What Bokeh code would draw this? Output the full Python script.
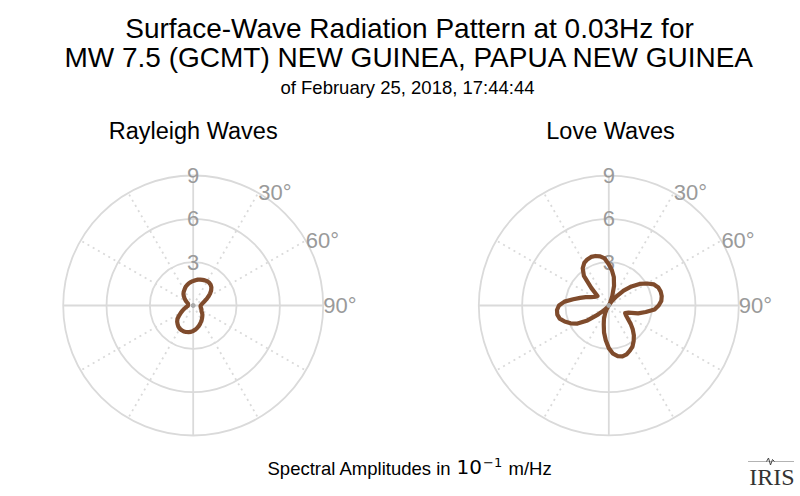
import numpy as np
from bokeh.plotting import figure
from bokeh.layouts import column, row
from bokeh.models import Range1d
from bokeh.core.properties import value
from bokeh.embed import file_html
from bokeh.resources import INLINE

# ---------------- data ----------------
AZIMUTH_DEG = list(range(0, 360, 5))

RAYLEIGH = [1.70, 1.76, 1.82, 1.86, 1.89, 1.92, 1.94, 1.93, 1.88, 1.78,
            1.62, 1.42, 1.20, 1.00, 0.82, 0.70, 0.62, 0.56, 0.52, 0.51,
            0.52, 0.55, 0.59, 0.63, 0.66, 0.70, 0.80, 0.90, 0.98, 1.07,
            1.17, 1.26, 1.37, 1.48, 1.58, 1.68, 1.76, 1.83, 1.87, 1.90,
            1.91, 1.89, 1.86, 1.79, 1.68, 1.57, 1.42, 1.18, 0.98, 0.80,
            0.66, 0.54, 0.45, 0.38, 0.36, 0.36, 0.36, 0.37, 0.39, 0.45,
            0.55, 0.66, 0.78, 0.92, 1.05, 1.15, 1.23, 1.33, 1.43, 1.50,
            1.58, 1.64]

LOVE = [2.85, 2.45, 2.00, 1.40, 0.70, 0.25, 0.08, 0.35, 0.80, 1.45,
        2.05, 2.60, 3.05, 3.45, 3.65, 3.72, 3.72, 3.65, 3.45, 3.18,
        2.60, 2.10, 1.45, 1.25, 1.38, 1.62, 1.98, 2.35, 2.70, 3.00,
        3.28, 3.45, 3.60, 3.65, 3.56, 3.35, 2.95, 2.42, 1.90, 1.35,
        0.98, 0.60, 0.30, 0.10, 0.22, 0.45, 0.95, 1.80, 2.50, 2.92,
        3.25, 3.52, 3.62, 3.60, 3.45, 3.08, 2.50, 2.05, 1.70, 1.38,
        1.20, 1.08, 1.02, 1.70, 2.68, 3.15, 3.40, 3.52, 3.58, 3.55,
        3.45, 3.27]

RADIAL_TICKS = [3, 6, 9]
RADIAL_LABELS = ["3", "6", "9"]
SPOKE_DEG = list(range(0, 360, 30))
ANGLE_TICKS = [30, 60, 90]
ANGLE_LABELS = ["30°", "60°", "90°"]

TITLE_1 = "Surface-Wave Radiation Pattern at 0.03Hz for"
TITLE_2 = "MW 7.5 (GCMT) NEW GUINEA, PAPUA NEW GUINEA"
TITLE_3 = "of February 25, 2018, 17:44:44"
SUBTITLES = ["Rayleigh Waves", "Love Waves"]
FOOTER_PARTS = ["Spectral Amplitudes in", "10", "\u22121", "m/Hz"]
LOGO = "IRIS"

# ---------------- style ----------------
FONT = value("Liberation Sans")
GRID = "#dadada"
LABEL = "#9a9a9a"
CURVE = "#7f4b2c"

W = 800
HEAD_H = 158
ROW_H = 290
FOOT_H = 48
PX_PER_UNIT = 130.0 / 9.0
CENTER_TOP = 147          # pixel distance from top of the polar row to the centre
LEFT_CX = 192.7
RIGHT_CX = 608.3 - W / 2
TITLE_X = 409


def bare(p):
    p.axis.visible = False
    p.xgrid.visible = False
    p.ygrid.visible = False
    p.outline_line_color = None
    p.min_border = 0
    p.background_fill_color = "white"
    p.border_fill_color = "white"
    return p


def label(p, x, y, txt, size, font=FONT, color="black", align="center"):
    p.text(x=x, y=y, text=txt, text_font=font, text_font_size=size, text_color=color,
           text_align=align, text_baseline="middle")


# header (y measured upward from the bottom of the header)
head = bare(figure(width=W, height=HEAD_H, x_range=Range1d(0, W), y_range=Range1d(0, HEAD_H),
                   output_backend="svg", toolbar_location=None))
label(head, [TITLE_X], [130.5], [TITLE_1], "28px")
label(head, [TITLE_X], [101], [TITLE_2], "28px")
label(head, [TITLE_X - 2], [71.5], [TITLE_3], "18.5px")
label(head, [LEFT_CX, 610], [27.5, 27.5], SUBTITLES, "23.5px")


def polar(values, cx):
    xs = (-cx / PX_PER_UNIT, (W / 2 - cx) / PX_PER_UNIT)
    ys = (-(ROW_H - CENTER_TOP) / PX_PER_UNIT, CENTER_TOP / PX_PER_UNIT)
    p = bare(figure(width=W // 2, height=ROW_H, x_range=Range1d(*xs), y_range=Range1d(*ys),
                    output_backend="svg", toolbar_location=None))
    rmax = max(RADIAL_TICKS)
    # circles
    p.circle(x=[0] * len(RADIAL_TICKS), y=[0] * len(RADIAL_TICKS), radius=RADIAL_TICKS,
             fill_color=None, line_color=GRID, line_width=1.8)
    # spokes
    sp = np.radians(SPOKE_DEG)
    solid = [d % 90 == 0 for d in SPOKE_DEG]
    ex = rmax * np.sin(sp)
    ey = rmax * np.cos(sp)
    sx = [x for x, s in zip(ex, solid) if s]
    sy = [y for y, s in zip(ey, solid) if s]
    dx = [x for x, s in zip(ex, solid) if not s]
    dy = [y for y, s in zip(ey, solid) if not s]
    p.segment(x0=[0] * len(sx), y0=[0] * len(sx), x1=sx, y1=sy, line_color=GRID, line_width=1.8)
    p.segment(x0=[0] * len(dx), y0=[0] * len(dx), x1=dx, y1=dy, line_color=GRID, line_width=1.8,
              line_dash="2 4")
    # radial labels
    label(p, [0] * len(RADIAL_TICKS), RADIAL_TICKS, RADIAL_LABELS, "22px", color=LABEL)
    # angular labels
    at = np.radians(ANGLE_TICKS)
    label(p, list(rmax * np.sin(at)), list(rmax * np.cos(at)), ANGLE_LABELS, "22px",
          color=LABEL, align="left")
    # pattern
    th = np.radians(AZIMUTH_DEG + [AZIMUTH_DEG[0]])
    r = np.array(values + [values[0]])
    p.line(x=r * np.sin(th), y=r * np.cos(th), line_color=CURVE, line_width=4.2,
           line_join="round")
    p.scatter(x=[0], y=[0], size=4, color="#aaaaaa")
    return p


left = polar(RAYLEIGH, LEFT_CX)
right = polar(LOVE, RIGHT_CX)

# footer (y measured upward from the bottom of the page)
foot = bare(figure(width=W, height=FOOT_H, x_range=Range1d(0, W), y_range=Range1d(0, FOOT_H),
                   output_backend="svg", toolbar_location=None))
label(foot, [267], [28.5], [FOOTER_PARTS[0]], "18.5px", align="left")
label(foot, [456], [29.5], [FOOTER_PARTS[1]], "20px", font=value("DejaVu Sans"), align="left")
label(foot, [482.5], [34.5], [FOOTER_PARTS[2]], "13px", font=value("DejaVu Sans"), align="left")
label(foot, [508], [28.5], [FOOTER_PARTS[3]], "18.5px", align="left")
label(foot, [771.5], [20], [LOGO], "24px", font=value("Liberation Serif"), color="#333333")
foot.segment(x0=[748], y0=[35], x1=[793], y1=[35], line_color="#666666", line_width=1,
             line_dash="1 1")
foot.line(x=[766, 768, 770, 772, 774], y=[35, 38.5, 31.5, 37, 35], line_color="#444444",
          line_width=1)

layout = column(head, row(left, right, spacing=0), foot, spacing=0)

with open("out.html", "w") as f:
    f.write(file_html(layout, INLINE))
